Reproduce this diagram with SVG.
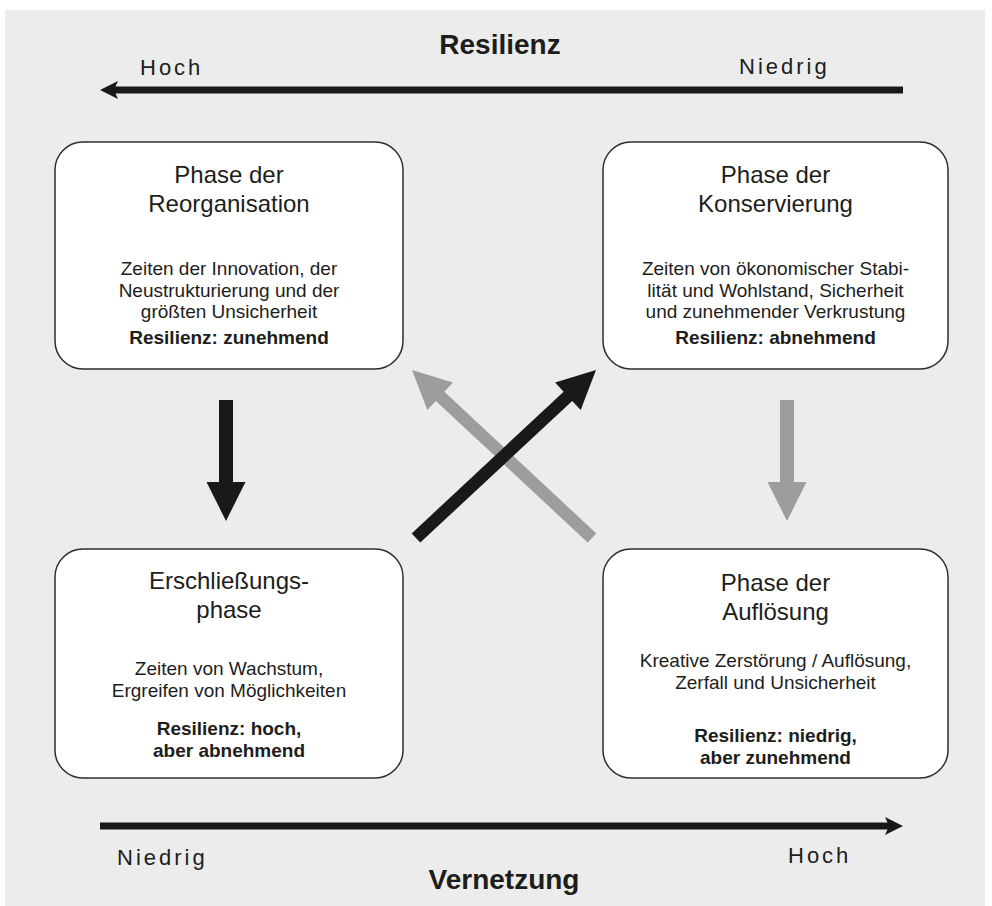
<svg xmlns="http://www.w3.org/2000/svg" width="992" height="906" viewBox="0 0 992 906">
<style>
.bg{fill:#ececec}
.box{fill:#ffffff;stroke:#2e2e2e;stroke-width:1.5}
.t{font-family:"Liberation Sans",Arial,Helvetica,sans-serif;fill:#1d1d1b;text-anchor:middle}
.title{font-size:24px}
.body{font-size:19px}
.bold{font-size:19px;font-weight:bold}
.axis{font-family:"Liberation Sans",Arial,Helvetica,sans-serif;fill:#1d1d1b;font-size:22px;letter-spacing:3px}
.head{font-family:"Liberation Sans",Arial,Helvetica,sans-serif;fill:#1d1d1b;font-size:28px;font-weight:bold;text-anchor:middle}
.dark{fill:#1b181c}
.gray{fill:#9c9d9f}
</style>
<rect class="bg" x="5" y="10" width="980" height="896"/>

<g id="axes">
  <text class="head" x="500" y="54">Resilienz</text>
  <text class="axis" x="140" y="75">Hoch</text>
  <text class="axis" x="739" y="74">Niedrig</text>
  <rect class="dark" x="112" y="86.5" width="791" height="7"/>
  <polygon class="dark" points="100,90 118,81 114,90 118,99"/>
  <rect class="dark" x="100" y="822.5" width="790" height="7"/>
  <polygon class="dark" points="903,826 885,817 889,826 885,835"/>
  <text class="axis" x="117" y="865">Niedrig</text>
  <text class="axis" x="788" y="863">Hoch</text>
  <text class="head" x="504" y="889">Vernetzung</text>
</g>

<g id="connectors">
  <polygon class="gray" points="596.3,533.4 444.4,391.7 452.9,382.6 412,370 427.3,410 435.8,400.9 587.7,542.6"/>
  <polygon class="dark" points="411.7,533.4 563.6,391.7 555.1,382.6 596,370 580.7,410 572.2,400.9 420.3,542.6"/>
  <polygon class="dark" points="219,400 233,400 233,482 245.5,482 226,521 206.5,482 219,482"/>
  <polygon class="gray" points="780,400 794,400 794,482 806.5,482 787,521 767.5,482 780,482"/>
</g>

<g id="reorganisation">
  <rect class="box" x="55" y="142" width="348" height="227" rx="28" ry="28"/>
  <text class="t title" x="229" y="183">Phase der</text>
  <text class="t title" x="229" y="212">Reorganisation</text>
  <text class="t body" x="229" y="275">Zeiten der Innovation, der</text>
  <text class="t body" x="229" y="296.5">Neustrukturierung und der</text>
  <text class="t body" x="229" y="318">größten Unsicherheit</text>
  <text class="t bold" x="229" y="344">Resilienz: zunehmend</text>
</g>

<g id="konservierung">
  <rect class="box" x="603" y="142" width="345" height="227" rx="28" ry="28"/>
  <text class="t title" x="775.5" y="183">Phase der</text>
  <text class="t title" x="775.5" y="212">Konservierung</text>
  <text class="t body" x="775.5" y="275">Zeiten von ökonomischer Stabi-</text>
  <text class="t body" x="775.5" y="296.5">lität und Wohlstand, Sicherheit</text>
  <text class="t body" x="775.5" y="318">und zunehmender Verkrustung</text>
  <text class="t bold" x="775.5" y="344">Resilienz: abnehmend</text>
</g>

<g id="erschliessung">
  <rect class="box" x="55" y="549" width="348" height="229" rx="28" ry="28"/>
  <text class="t title" x="229" y="589">Erschließungs-</text>
  <text class="t title" x="229" y="618">phase</text>
  <text class="t body" x="229" y="675">Zeiten von Wachstum,</text>
  <text class="t body" x="229" y="697">Ergreifen von Möglichkeiten</text>
  <text class="t bold" x="229" y="735">Resilienz: hoch,</text>
  <text class="t bold" x="229" y="757">aber abnehmend</text>
</g>

<g id="aufloesung">
  <rect class="box" x="603" y="549" width="345" height="229" rx="28" ry="28"/>
  <text class="t title" x="775.5" y="591">Phase der</text>
  <text class="t title" x="775.5" y="620">Auflösung</text>
  <text class="t body" x="775.5" y="667">Kreative Zerstörung / Auflösung,</text>
  <text class="t body" x="775.5" y="689">Zerfall und Unsicherheit</text>
  <text class="t bold" x="775.5" y="742">Resilienz: niedrig,</text>
  <text class="t bold" x="775.5" y="764">aber zunehmend</text>
</g>
</svg>
